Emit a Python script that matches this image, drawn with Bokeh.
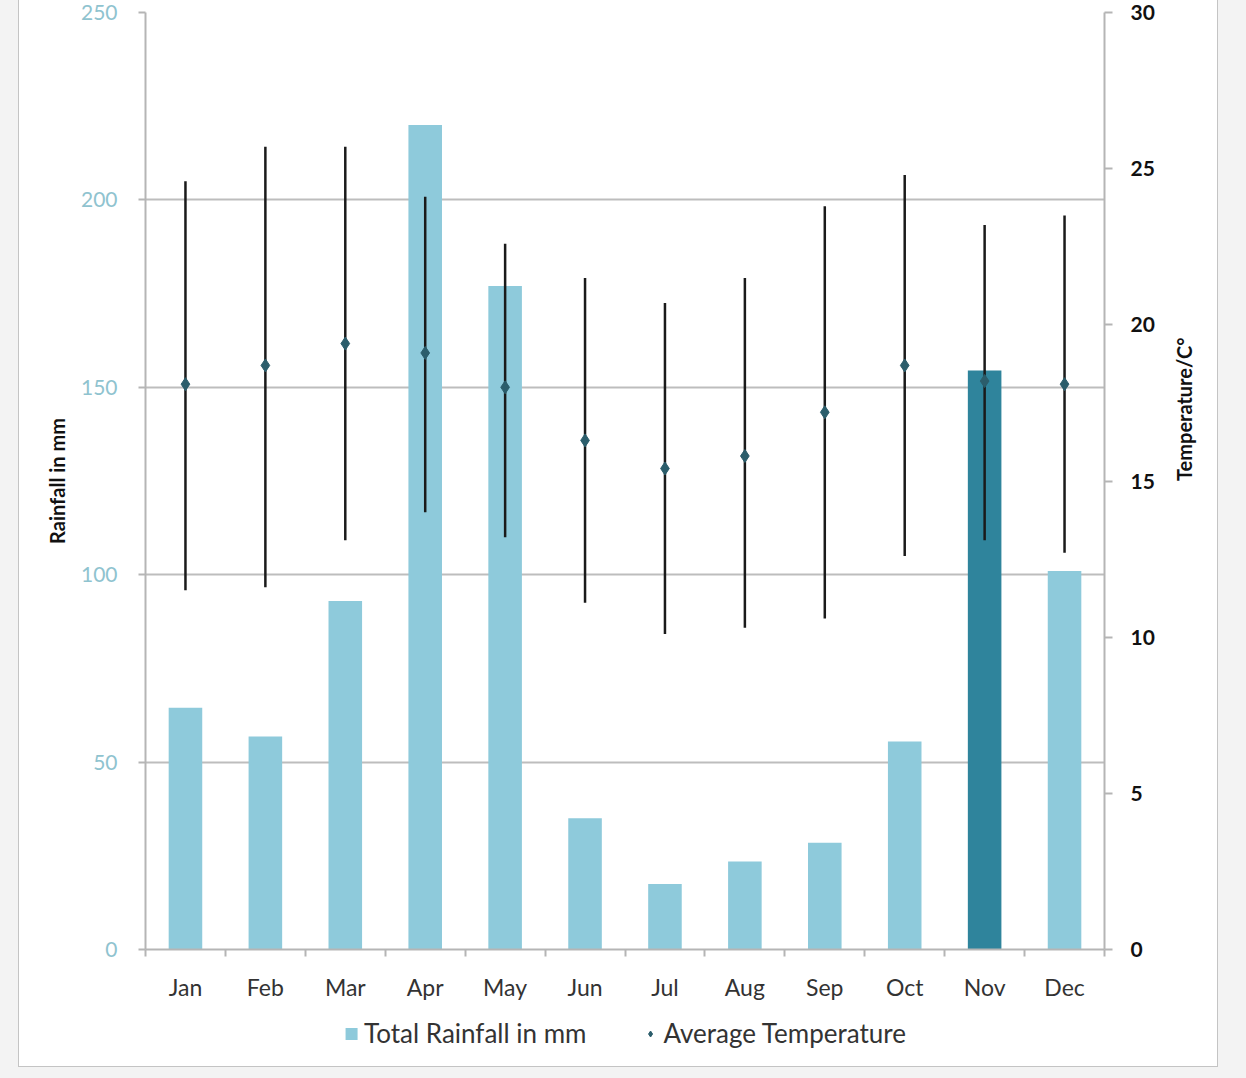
import math
from bokeh.plotting import figure
from bokeh.models import (Range1d, LinearAxis, FixedTicker, Legend, LegendItem,
                          ColumnDataSource)
from bokeh.layouts import column
from bokeh.embed import file_html
from bokeh.resources import INLINE

months = ["Jan", "Feb", "Mar", "Apr", "May", "Jun", "Jul", "Aug", "Sep", "Oct", "Nov", "Dec"]
rainfall = [64.5, 56.8, 93, 220, 177, 35, 17.5, 23.5, 28.5, 55.5, 154.5, 101]
temp_avg = [18.1, 18.7, 19.4, 19.1, 18.0, 16.3, 15.4, 15.8, 17.2, 18.7, 18.2, 18.1]
temp_max = [24.6, 25.7, 25.7, 24.1, 22.6, 21.5, 20.7, 21.5, 23.8, 24.8, 23.2, 23.5]
temp_min = [11.5, 11.6, 13.1, 14.0, 13.2, 11.1, 10.1, 10.3, 10.6, 12.6, 13.1, 12.7]
left_ticks = [0, 50, 100, 150, 200, 250]
right_ticks = [0, 5, 10, 15, 20, 25, 30]

LIGHT = "#8ecadb"
DARK = "#2f849c"
MARK = "#2b5d6b"
FONT = "Lato"

xpos = [i + 0.5 for i in range(len(months))]
colors = [DARK if m == "Nov" else LIGHT for m in months]

src = ColumnDataSource(dict(x=xpos, rain=rainfall, color=colors, avg=temp_avg,
                            tmax=temp_max, tmin=temp_min))

p = figure(width=1198, height=1003, output_backend="svg", toolbar_location=None,
           x_range=Range1d(0, len(months)), y_range=Range1d(0, 250),
           min_border_left=126, min_border_right=113, min_border_top=12,
           min_border_bottom=54, y_axis_location=None, x_axis_location=None)
p.extra_y_ranges = {"temp": Range1d(0, 30)}
p.outline_line_color = None
p.background_fill_color = "white"
p.border_fill_color = "white"

# grids
p.xgrid.visible = False
p.ygrid.ticker = FixedTicker(ticks=left_ticks)
p.ygrid.grid_line_color = "#bdbdbd"
p.ygrid.grid_line_width = 2

p.vbar(x="x", top="rain", width=0.42, fill_color="color", line_color=None, source=src)
p.segment(x0="x", x1="x", y0="tmin", y1="tmax", line_color="#1a1a1a", line_width=2.5,
          y_range_name="temp", source=src)
p.scatter(x="x", y="avg", marker="diamond", size=13, fill_color=MARK, line_color=MARK,
          y_range_name="temp", source=src)

# left axis
la = LinearAxis(ticker=FixedTicker(ticks=left_ticks), axis_label="Rainfall in mm")
la.axis_line_color = "#b5b5b5"
la.axis_line_width = 2
la.major_tick_line_color = "#b5b5b5"
la.major_tick_line_width = 2
la.major_tick_out = 7
la.major_tick_in = 0
la.minor_tick_line_color = None
la.major_label_text_color = "#8fc3cf"
la.major_label_text_font = FONT
la.major_label_text_font_size = "21px"
la.major_label_standoff = 21
la.axis_label_text_font = FONT
la.axis_label_text_font_style = "bold"
la.axis_label_text_font_size = "20px"
la.axis_label_text_color = "#111111"
la.axis_label_standoff = 9
p.add_layout(la, "left")

# right axis
ra = LinearAxis(y_range_name="temp", ticker=FixedTicker(ticks=right_ticks),
                axis_label="Temperature/C°")
ra.axis_label_orientation = math.pi / 2
ra.axis_line_color = "#b5b5b5"
ra.axis_line_width = 2
ra.major_tick_line_color = "#b5b5b5"
ra.major_tick_line_width = 2
ra.major_tick_out = 8
ra.major_tick_in = 0
ra.minor_tick_line_color = None
ra.major_label_text_color = "#111111"
ra.major_label_text_font = FONT
ra.major_label_text_font_style = "bold"
ra.major_label_text_font_size = "21px"
ra.major_label_standoff = 18
ra.axis_label_text_font = FONT
ra.axis_label_text_font_style = "bold"
ra.axis_label_text_font_size = "20px"
ra.axis_label_text_color = "#111111"
ra.axis_label_standoff = 26
p.add_layout(ra, "right")

# bottom axis: labels at centres, ticks at boundaries
xa = LinearAxis(ticker=FixedTicker(ticks=xpos, minor_ticks=list(range(len(months) + 1))))
xa.major_label_overrides = {x: m for x, m in zip(xpos, months)}
xa.axis_line_color = "#b5b5b5"
xa.axis_line_width = 2
xa.major_tick_line_color = None
xa.minor_tick_line_color = "#b5b5b5"
xa.minor_tick_line_width = 2
xa.minor_tick_out = 7
xa.minor_tick_in = 0
xa.major_label_text_color = "#333333"
xa.major_label_text_font = FONT
xa.major_label_text_font_size = "23px"
xa.major_label_standoff = 16
p.add_layout(xa, "below")

# legend strip below the chart (legend-only renderers sit outside the view)
p2 = figure(width=1198, height=63, output_backend="svg", toolbar_location=None,
            x_range=Range1d(0, 1), y_range=Range1d(0, 1),
            min_border=0, x_axis_location=None, y_axis_location=None)
p2.outline_line_color = None
p2.grid.visible = False
p2.background_fill_color = "white"
p2.border_fill_color = "white"
lb = p2.vbar(x=[-5], top=[-5], width=0.4, fill_color=LIGHT, line_color=None)
ls = p2.scatter(x=[-5], y=[-5], marker="diamond", size=12, fill_color=MARK, line_color=MARK)

legend = Legend(items=[LegendItem(label="Total Rainfall in mm", renderers=[lb]),
                       LegendItem(label="Average Temperature", renderers=[ls])],
                orientation="horizontal", location="top_center")
legend.label_text_font = FONT
legend.label_text_font_size = "26px"
legend.label_text_color = "#333333"
legend.glyph_width = 15
legend.glyph_height = 15
legend.spacing = 56
legend.label_standoff = 6
legend.border_line_color = None
legend.background_fill_alpha = 0
legend.margin = 14
legend.padding = 4
p2.add_layout(legend, "center")

inner = column(p, p2, spacing=0,
               styles={"box-shadow": "0 0 0 1px #c4c4c4", "background-color": "white"})
inner.margin = (0, 29, 12, 19)
page = column(inner, styles={"background-color": "#f3f3f3"}, width=1246, height=1078)
page.margin = 0

open("out.html", "w").write(file_html(page, INLINE))
